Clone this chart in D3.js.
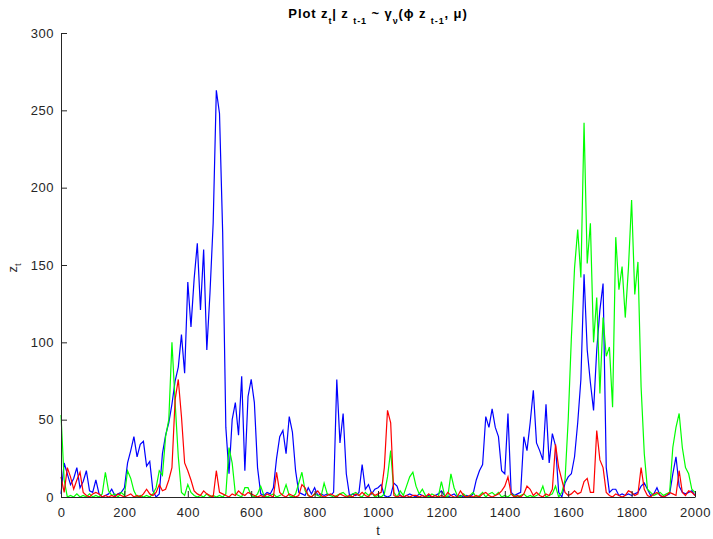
<!DOCTYPE html>
<html>
<head>
<meta charset="utf-8">
<script src="https://cdn.jsdelivr.net/npm/d3@7"></script>
<style>
  body { margin: 0; background: #fff; }
  svg { font-family: "Liberation Sans", Arial, sans-serif; }
</style>
</head>
<body>
<svg id="chart" width="713" height="539"></svg>
<script>
// time index, one value every 10 steps
const t = d3.range(0, 2001, 10);

const blue = [
  2, 22, 15, 8, 12, 19, 6, 10, 17, 4,
  3, 11, 2, 0, 1, 2, 5, 1, 2, 3,
  6, 22, 30, 39, 26, 34, 36, 20, 23, 4,
  0, 2, 28, 40, 48, 60, 75, 84, 105, 80,
  139, 110, 141, 164, 121, 160, 95, 132, 177, 263,
  248, 171, 45, 15, 50, 61, 40, 78, 17, 65,
  76, 61, 19, 2, 1, 3, 2, 6, 25, 39,
  43, 28, 52, 42, 17, 3, 2, 1, 6, 2,
  6, 1, 2, 1, 2, 1, 3, 76, 35, 54,
  15, 1, 2, 1, 3, 21, 5, 8, 2, 5,
  6, 8, 1, 0, 1, 9, 7, 1, 0, 1,
  2, 1, 0, 2, 1, 0, 1, 0, 1, 2,
  4, 1, 0, 1, 2, 0, 1, 0, 1, 0,
  2, 11, 17, 21, 52, 45, 57, 45, 39, 17,
  15, 54, 3, 1, 2, 3, 39, 30, 48, 69,
  35, 30, 24, 60, 22, 41, 33, 3, 0, 9,
  13, 15, 26, 48, 76, 144, 95, 74, 56, 95,
  121, 138, 19, 3, 5, 5, 1, 2, 1, 2,
  1, 2, 3, 7, 9, 5, 1, 2, 6, 1,
  0, 1, 2, 15, 26, 7, 3, 2, 3, 4,
  1
];

const green = [
  53, 11, 0, 1, 0, 2, 0, 1, 0, 2,
  0, 1, 0, 2, 16, 4, 1, 2, 0, 3,
  1, 17, 12, 4, 0, 1, 0, 1, 0, 2,
  6, 17, 14, 39, 50, 100, 61, 26, 3, 1,
  8, 3, 1, 0, 1, 0, 2, 0, 1, 0,
  1, 0, 2, 32, 22, 2, 1, 0, 6, 6,
  1, 0, 2, 7, 1, 0, 1, 2, 0, 1,
  2, 8, 1, 0, 2, 9, 16, 4, 1, 0,
  2, 1, 0, 9, 2, 1, 0, 1, 2, 3,
  1, 0, 2, 3, 1, 0, 3, 1, 3, 0,
  1, 0, 2, 13, 30, 3, 0, 4, 1, 7,
  13, 16, 7, 2, 5, 1, 0, 2, 1, 0,
  10, 1, 0, 15, 6, 1, 0, 2, 0, 1,
  3, 0, 1, 3, 0, 2, 3, 1, 3, 0,
  1, 0, 2, 1, 0, 1, 2, 0, 1, 0,
  1, 2, 7, 0, 1, 2, 7, 0, 3, 11,
  50, 103, 148, 173, 142, 242, 151, 177, 100, 129,
  67, 116, 91, 97, 58, 168, 134, 149, 116, 148,
  192, 131, 152, 71, 28, 5, 3, 1, 2, 3,
  1, 2, 3, 32, 45, 54, 32, 19, 15, 5,
  3
];

const red = [
  13, 3, 19, 13, 5, 11, 16, 3, 1, 0,
  2, 3, 2, 0, 1, 0, 1, 0, 2, 1,
  0, 1, 2, 0, 1, 0, 2, 5, 2, 1,
  3, 8, 4, 5, 11, 19, 63, 76, 52, 22,
  17, 11, 4, 2, 1, 4, 2, 1, 0, 17,
  3, 2, 1, 0, 2, 1, 4, 2, 1, 3,
  2, 1, 0, 1, 0, 2, 1, 0, 16, 3,
  1, 0, 2, 1, 0, 1, 8, 6, 1, 0,
  2, 4, 1, 0, 1, 2, 1, 0, 2, 1,
  0, 1, 0, 2, 1, 3, 1, 0, 3, 1,
  2, 3, 19, 56, 48, 1, 0, 1, 0, 1,
  0, 1, 1, 0, 1, 0, 2, 0, 1, 0,
  1, 0, 3, 1, 0, 0, 4, 1, 0, 1,
  0, 1, 0, 2, 3, 1, 0, 1, 2, 4,
  7, 13, 2, 0, 1, 0, 2, 7, 5, 1,
  3, 1, 0, 2, 1, 5, 34, 19, 11, 3,
  1, 2, 4, 2, 3, 10, 12, 3, 3, 43,
  24, 19, 3, 1, 0, 2, 1, 0, 1, 4,
  3, 1, 2, 19, 5, 1, 0, 2, 3, 1,
  0, 1, 3, 2, 1, 17, 3, 1, 4, 3,
  1
];

const xTicks = [0, 200, 400, 600, 800, 1000, 1200, 1400, 1600, 1800, 2000];
const yTicks = [0, 50, 100, 150, 200, 250, 300];

const series = [
  {name: 'blue', color: '#0000ff', values: blue},
  {name: 'green', color: '#00ff00', values: green},
  {name: 'red', color: '#ff0000', values: red}
];

const svg = d3.select('#chart');
const axisColor = '#262626';

let xScale = d3.scaleLinear()
               .domain([0, 2000])
               .range([61, 695]);
let yScale = d3.scaleLinear()
               .domain([0, 300])
               .range([497, 33]);

svg.append('rect')
   .attr('width', 713)
   .attr('height', 539)
   .attr('fill', '#fff');

let lineFunction = d3.line()
  .x(function(d, i){ return xScale(t[i]); })
  .y(function(d){ return yScale(d); });

for(let s of series){
  svg.append('path')
     .attr('class', 'series_' + s.name)
     .attr('d', lineFunction(s.values))
     .attr('fill', 'none')
     .attr('stroke', s.color)
     .attr('stroke-width', 1.2)
     .attr('stroke-linejoin', 'miter');
}

// axes, MATLAB style: ticks pointing inward, no box
let xAxis = svg.append('g')
   .attr('transform', 'translate(0,497)')
   .call(d3.axisBottom(xScale)
           .tickValues(xTicks)
           .tickFormat(d3.format('d'))
           .tickSizeInner(-6)
           .tickSizeOuter(0)
           .tickPadding(11));
let yAxis = svg.append('g')
   .attr('transform', 'translate(61,0)')
   .call(d3.axisLeft(yScale)
           .tickValues(yTicks)
           .tickFormat(d3.format('d'))
           .tickSizeInner(-6)
           .tickSizeOuter(0)
           .tickPadding(7));

for(let ax of [xAxis, yAxis]){
  ax.selectAll('path, line').attr('stroke', axisColor);
  ax.selectAll('text')
    .attr('fill', axisColor)
    .attr('font-size', '13px')
    .attr('font-family', '"Liberation Sans", Arial, sans-serif')
    .attr('letter-spacing', '0.5px');
}

// title with subscripts
let title = svg.append('text')
   .attr('x', 378)
   .attr('y', 18)
   .attr('text-anchor', 'middle')
   .attr('font-size', '13px')
   .attr('font-weight', 'bold')
   .attr('letter-spacing', '0.9px')
   .attr('fill', '#000');
const titleParts = [
  ['Plot z', false], ['t', true], ['| z ', false], ['t-1', true],
  [' ~ \u03b3', false], ['\u03bd', true], ['(\u03d5 z ', false], ['t-1', true],
  [', \u03bc)', false]
];
let sub = false;
for(let p of titleParts){
  let dy = 0;
  if(p[1] && !sub) dy = 6;
  if(!p[1] && sub) dy = -6;
  sub = p[1];
  title.append('tspan')
       .attr('dy', dy)
       .attr('font-size', p[1] ? '9px' : '13px')
       .attr('xml:space', 'preserve')
       .style('white-space', 'pre')
       .text(p[0]);
}

svg.append('text')
   .attr('x', 378)
   .attr('y', 535)
   .attr('text-anchor', 'middle')
   .attr('font-size', '13px')
   .attr('fill', axisColor)
   .text('t');

let ylab = svg.append('text')
   .attr('transform', 'translate(17,268) rotate(-90)')
   .attr('text-anchor', 'middle')
   .attr('font-size', '13px')
   .attr('fill', axisColor);
ylab.append('tspan').text('z');
ylab.append('tspan').attr('dy', 4).attr('font-size', '9px').text('t');
</script>
</body>
</html>
